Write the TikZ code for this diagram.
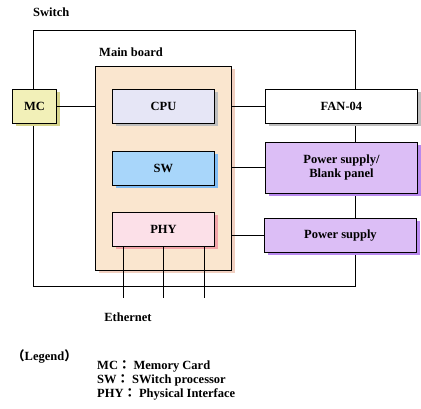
\documentclass[tikz,border=0pt]{standalone}
\usepackage{fontspec}
\setmainfont{Liberation Serif}
\newfontfamily\cjk{Noto Sans CJK JP}
\definecolor{mcfill}{HTML}{F2F0B8}
\definecolor{mcshadow}{HTML}{D6D48C}
\definecolor{mbfill}{HTML}{FAE6CF}
\definecolor{mbshadow}{HTML}{F0CFC0}
\definecolor{cpufill}{HTML}{E6E6F6}
\definecolor{grayshadow}{HTML}{BEBEBE}
\definecolor{swfill}{HTML}{A8D6FA}
\definecolor{swshadow}{HTML}{80BCF4}
\definecolor{phyfill}{HTML}{FCE0E8}
\definecolor{physhadow}{HTML}{F2A4A8}
\definecolor{psfill}{HTML}{DCBEF6}
\definecolor{psshadow}{HTML}{B888EE}
\begin{document}
\begin{tikzpicture}[x=1pt,y=-1pt,
  every node/.style={font=\fontsize{12.5}{14}\selectfont\bfseries},
  blk/.style={draw=black,line width=0.9pt,minimum width=102pt,minimum height=34pt,inner sep=0pt,align=center},
  lbl/.style={anchor=west,inner sep=0pt},
  wire/.style={line width=0.9pt}]
\useasboundingbox (0,0) rectangle (421,409);
% Switch outer
\draw[wire] (33,30) rectangle (355,286);
\node[lbl] (swlabel) at (33,12) {Switch};
% Main board
\fill[mbshadow] (98.5,69.5) rectangle (234.5,273.5);
\node[draw=black,line width=0.9pt,fill=mbfill,minimum width=136pt,minimum height=204pt,inner sep=0pt,anchor=north west] (mb) at (95,66) {};
\node[lbl] (mblabel) at (99,52) {Main board};
% MC
\fill[mcshadow] (15.5,92.5) rectangle (59.5,126.5);
\node[blk,fill=mcfill,minimum width=44pt,anchor=north west] (mc) at (12,89) {MC};
% CPU
\fill[grayshadow] (115.5,92.5) rectangle (217.5,126.5);
\node[blk,fill=cpufill,anchor=north west] (cpu) at (112,89) {CPU};
% SW
\fill[swshadow] (115.5,154.5) rectangle (217.5,188.5);
\node[blk,fill=swfill,anchor=north west] (sw) at (112,151) {SW};
% PHY
\fill[physhadow] (115.5,215.5) rectangle (217.5,249.5);
\node[blk,fill=phyfill,anchor=north west] (phy) at (112,212) {PHY};
% FAN
\fill[grayshadow] (268.5,92.5) rectangle (420.5,126.5);
\node[blk,fill=white,minimum width=152pt,anchor=north west] (fan) at (265,89) {FAN-04};
% PS / Blank panel
\fill[psshadow] (268.5,145.5) rectangle (420.5,196.5);
\node[blk,fill=psfill,minimum width=152pt,minimum height=51pt,anchor=north west] (psbp) at (265,142) {Power supply/\\Blank panel};
% PS
\fill[psshadow] (267.5,221.5) rectangle (419.5,255.5);
\node[blk,fill=psfill,minimum width=152pt,anchor=north west] (ps) at (264,218) {Power supply};
% connectors
\draw[wire] (mc.east) -- (mb.west |- mc.east);
\draw[wire] (mb.east |- fan.west) -- (fan.west);
\draw[wire] (mb.east |- psbp.west) -- (psbp.west);
\draw[wire] (mb.east |- ps.west) -- (ps.west);
\coordinate (e1) at (123,298);
\coordinate (e2) at (163,298);
\coordinate (e3) at (204,298);
\draw[wire] (phy.south -| e1) -- (e1);
\draw[wire] (phy.south -| e2) -- (e2);
\draw[wire] (phy.south -| e3) -- (e3);
\node (eth) at (128,317) {Ethernet};
% Legend
\node[lbl] (leg) at (12,356) {{\cjk （}Legend{\cjk ）}};
\node[lbl] (l1) at (97,366) {MC{\cjk ：}\hspace{3pt}Memory Card};
\node[lbl] (l2) at (97,380) {SW{\cjk ：}\hspace{3pt}SWitch processor};
\node[lbl] (l3) at (97,394) {PHY{\cjk ：}\hspace{3pt}Physical Interface};
\end{tikzpicture}
\end{document}
